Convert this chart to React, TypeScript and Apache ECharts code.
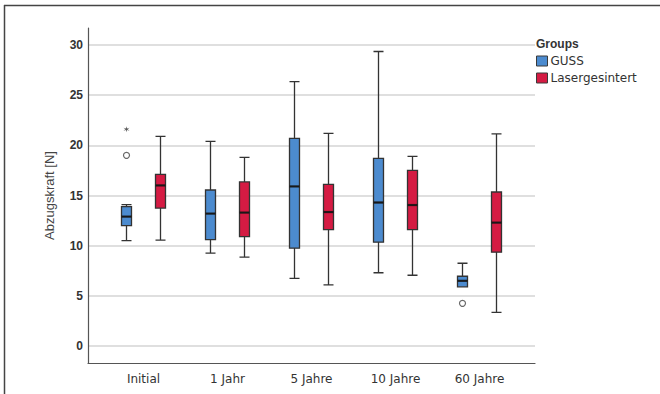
import React, { useEffect, useRef } from "react";
import * as echarts from "echarts";

const categories = ["Initial", "1 Jahr", "5 Jahre", "10 Jahre", "60 Jahre"];
// [min, Q1, median, Q3, max]
const gussBox = [
  [10.5, 12.0, 12.9, 13.9, 14.1],
  [9.25, 10.6, 13.2, 15.55, 20.4],
  [6.75, 9.75, 15.9, 20.7, 26.35],
  [7.3, 10.35, 14.3, 18.7, 29.35],
  [5.9, 5.9, 6.5, 6.95, 8.25],
];
const laserBox = [
  [10.55, 13.75, 16.0, 17.1, 20.9],
  [8.85, 10.9, 13.3, 16.35, 18.8],
  [6.1, 11.6, 13.35, 16.1, 21.2],
  [7.05, 11.6, 14.05, 17.5, 18.9],
  [3.35, 9.35, 12.3, 15.35, 21.15],
];
const gussOutliers = [["Initial", 19.0], ["60 Jahre", 4.25]];
const gussExtremes = [["Initial", 21.6]];
const yMin = 0;
const yMax = 30;
const yInterval = 5;

const BLUE = "#4c8bcf";
const RED = "#d51b43";
const STAR = "path://M5,0 L5.8,3.6 L9.3,2.5 L6.6,5 L9.3,7.5 L5.8,6.4 L5,10 L4.2,6.4 L0.7,7.5 L3.4,5 L0.7,2.5 L4.2,3.6 Z";

export default function App() {
  const ref = useRef<HTMLDivElement>(null);
  useEffect(() => {
    if (!ref.current) return;
    const chart = echarts.init(ref.current, null, { renderer: "svg" });
    const hiddenVal = (g: number) => ({
      type: "value", gridIndex: g, min: yMin, max: yMax, interval: yInterval, show: false,
    });
    const hiddenCat = (g: number) => ({
      type: "category", gridIndex: g, data: categories, show: false,
    });
    const medians = (box: number[][]) => box.map((b, i) => [categories[i], b[2]]);
    chart.setOption({
      animation: false,
      backgroundColor: "#ffffff",
      title: {
        text: "Groups",
        left: 536,
        top: 38,
        textStyle: { fontFamily: "Liberation Sans", fontWeight: "bold", fontSize: 12, color: "#333" },
        padding: 0,
      },
      legend: {
        data: [
          { name: "GUSS", icon: "rect", itemStyle: { color: BLUE, borderColor: "#3a3a3a", borderWidth: 1 } },
          { name: "Lasergesintert", icon: "rect", itemStyle: { color: RED, borderColor: "#3a3a3a", borderWidth: 1 } },
        ],
        orient: "vertical",
        left: 536,
        top: 55,
        padding: 0,
        itemWidth: 11,
        itemHeight: 10,
        itemGap: 5,
        textStyle: { fontFamily: "DejaVu Sans", fontSize: 12, color: "#333", padding: [0, 0, 0, -2] },
      },
      grid: [
        { left: 88, right: 125, top: 28, bottom: 31 },
        { left: 88, right: 125, top: 45, bottom: 48 },
        { left: 84.5, right: 155.5, top: 45, bottom: 48 },
        { left: 118.5, right: 121.5, top: 45, bottom: 48 },
        { left: 101.5, right: 138.5, top: 45, bottom: 48 },
      ],
      xAxis: [
        {
          type: "value", gridIndex: 0, min: 0, max: 1,
          axisLine: { show: true, lineStyle: { color: "#555", width: 1.2 } },
          axisTick: { show: false }, axisLabel: { show: false }, splitLine: { show: false },
        },
        { type: "value", gridIndex: 1, min: 0, max: 1, show: false },
        hiddenCat(2),
        hiddenCat(3),
        {
          type: "category", gridIndex: 4, data: categories,
          axisLine: { show: false }, axisTick: { show: false }, splitLine: { show: false },
          axisLabel: { margin: 27, fontFamily: "DejaVu Sans", fontSize: 12, color: "#333" },
        },
      ],
      yAxis: [
        {
          type: "value", gridIndex: 0, min: 0, max: 1,
          axisLine: { show: true, lineStyle: { color: "#555", width: 1.2 } },
          axisTick: { show: false }, axisLabel: { show: false }, splitLine: { show: false },
        },
        {
          type: "value", gridIndex: 1, min: yMin, max: yMax, interval: yInterval,
          axisLine: { show: false }, axisTick: { show: false },
          axisLabel: { margin: 5, fontFamily: "Liberation Sans", fontWeight: "bold", fontSize: 12, color: "#333" },
          splitLine: { show: true, lineStyle: { color: "#d4d4d4", width: 1.5 } },
          name: "Abzugskraft [N]",
          nameLocation: "middle",
          nameGap: 32,
          nameTextStyle: { fontFamily: "Liberation Sans", fontSize: 13, color: "#444" },
        },
        hiddenVal(2),
        hiddenVal(3),
        hiddenVal(4),
      ],
      graphic: [
        { type: "line", shape: { x1: 4, y1: 5.5, x2: 660, y2: 5.5 }, style: { stroke: "#444", lineWidth: 1.5 } },
        { type: "line", shape: { x1: 4.5, y1: 5, x2: 4.5, y2: 394 }, style: { stroke: "#444", lineWidth: 1.5 } },
      ],
      series: [
        {
          name: "GUSS", type: "boxplot", xAxisIndex: 2, yAxisIndex: 2,
          data: gussBox, boxWidth: [10, 10],
          itemStyle: { color: BLUE, borderColor: "#333", borderWidth: 1.3 },
        },
        {
          name: "Lasergesintert", type: "boxplot", xAxisIndex: 3, yAxisIndex: 3,
          data: laserBox, boxWidth: [10, 10],
          itemStyle: { color: RED, borderColor: "#333", borderWidth: 1.3 },
        },
        {
          name: "GUSS Median", type: "scatter", xAxisIndex: 2, yAxisIndex: 2,
          data: medians(gussBox), symbol: "rect", symbolSize: [10, 2.2],
          itemStyle: { color: "#111" }, z: 5,
        },
        {
          name: "Laser Median", type: "scatter", xAxisIndex: 3, yAxisIndex: 3,
          data: medians(laserBox), symbol: "rect", symbolSize: [10, 2.2],
          itemStyle: { color: "#111" }, z: 5,
        },
        {
          name: "GUSS Ausreißer", type: "scatter", xAxisIndex: 2, yAxisIndex: 2,
          data: gussOutliers, symbol: "circle", symbolSize: 6,
          itemStyle: { color: "#fff", borderColor: "#444", borderWidth: 1.2 }, z: 5,
        },
        {
          name: "GUSS Extremwert", type: "scatter", xAxisIndex: 2, yAxisIndex: 2,
          data: gussExtremes, symbol: STAR, symbolSize: 6,
          itemStyle: { color: "#333" }, z: 5,
        },
      ],
    });
    return () => chart.dispose();
  }, []);
  return (
    <div
      ref={ref}
      style={{ position: "fixed", left: 0, top: 0, width: 660, height: 394, background: "#fff" }}
    />
  );
}
